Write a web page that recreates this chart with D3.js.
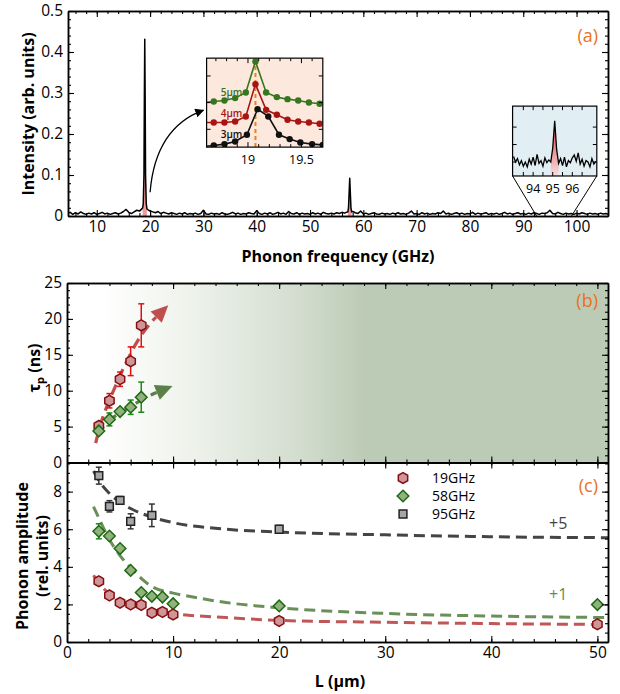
<!DOCTYPE html>
<html><head><meta charset="utf-8">
<script src="https://cdn.jsdelivr.net/npm/d3@7"></script>
<style>body{margin:0;background:#fff}svg{display:block}text{font-family:"Open Sans",sans-serif}</style>
</head><body><svg id="c" width="620" height="694"></svg>
<script>
// ---------- DATA ----------
// Panel (a): spectrum baseline noise, sampled every 0.5 GHz from 4.5 GHz
const noiseStartGHz = 4.5, noiseStepGHz = 0.5;
const noiseVals = [
0.006,0.009,0.004,0.008,0.005,0.010,0.006,0.004,0.007,0.005,
0.008,0.004,0.006,0.009,0.005,0.007,0.004,0.006,0.008,0.005,
0.007,0.011,0.016,0.009,0.006,0.010,0.014,0.012,0.018,0.020,
0.016,0.012,0.010,0.008,0.011,0.006,0.009,0.007,0.005,0.008,
0.006,0.004,0.007,0.005,0.008,0.004,0.006,0.005,0.007,0.004,
0.006,0.014,0.005,0.004,0.007,0.005,0.006,0.004,0.008,0.005,
0.004,0.006,0.009,0.005,0.007,0.004,0.006,0.005,0.008,0.006,
0.005,0.013,0.006,0.004,0.007,0.005,0.008,0.004,0.006,0.009,
0.005,0.007,0.004,0.011,0.006,0.005,0.008,0.004,0.007,0.005,
0.006,0.004,0.008,0.005,0.007,0.004,0.009,0.006,0.005,0.007,
0.005,0.008,0.006,0.009,0.007,0.010,0.012,0.011,0.008,0.006,
0.012,0.005,0.007,0.004,0.006,0.008,0.005,0.004,0.007,0.005,
0.006,0.004,0.007,0.005,0.008,0.005,0.006,0.004,0.007,0.012,
0.005,0.006,0.004,0.008,0.005,0.007,0.004,0.006,0.005,0.008,
0.006,0.012,0.005,0.007,0.004,0.006,0.008,0.005,0.007,0.004,
0.006,0.005,0.009,0.004,0.007,0.005,0.006,0.008,0.004,0.006,
0.005,0.007,0.004,0.006,0.009,0.005,0.007,0.004,0.006,0.008,
0.005,0.006,0.004,0.007,0.005,0.008,0.006,0.004,0.007,0.006,
0.008,0.014,0.006,0.005,0.009,0.006,0.004,0.007,0.005,0.006,
0.004,0.007,0.005,0.008,0.006,0.004,0.007,0.005,0.006,0.004,
0.007,0.005,0.006,0.004];
const peak19 = [[18.6,0.02],[18.72,0.03],[18.85,0.1],[18.93,0.3],[19.0,0.431],[19.07,0.3],[19.15,0.1],[19.28,0.03],[19.4,0.018]];
const peak57 = [[57.1,0.01],[57.22,0.02],[57.35,0.06],[57.45,0.092],[57.55,0.06],[57.68,0.02],[57.8,0.01]];
const freqTicks = [10,20,30,40,50,60,70,80,90,100];
const intensityTicks = [0,0.1,0.2,0.3,0.4,0.5];

// Inset 1 (19 GHz zoom)
const inset1Freq = [18.58,18.68,18.78,18.88,18.98,19.07,19.17,19.27,19.37,19.47,19.57,19.67];
const inset1Green5 = [50.2,51.3,52.4,55.1,61.4,96.3,61.4,56.2,53.9,52.4,50.2,48.7];
const inset1Red4 = [27.7,27.7,27.7,28.8,34.5,70.8,41.9,36.3,30.7,28.8,27.7,26.2];
const inset1BlackFreq = [18.58,18.68,18.78,18.88,18.99,19.09,19.19,19.29,19.39,19.49,19.60,19.70];
const inset1Black3 = [0.7,1.9,3.4,6.4,13.9,42.7,34.5,13.9,9.0,5.2,3.4,2.5];
const inset1Ticks = [19, 19.5];
const inset1Marker = 19.07;

// Inset 2 (95 GHz zoom), 0.1 GHz steps from 93.0
const inset2Start = 93.0, inset2Step = 0.1;
const inset2Vals = [0.28,0.20,0.25,0.16,0.22,0.14,0.20,0.13,0.24,0.17,0.27,0.15,0.31,0.18,0.22,0.14,0.26,0.19,0.23,0.20,0.40,0.79,0.38,0.18,0.25,0.15,0.27,0.13,0.22,0.19,0.26,0.30,0.21,0.33,0.17,0.24,0.14,0.22,0.20,0.13,0.25,0.17,0.21];
const inset2Ticks = [94,95,96];

// Panel (b): decay time vs L
const Lb = [3,4,5,6,7];
const tau19 = [5.1,8.6,11.6,14.1,19.1];
const tau19Err = [0.4,1.0,1.0,2.0,3.0];
const tau58 = [4.4,6.0,7.1,7.7,9.1];
const tau58Err = [0.4,0.9,0.4,1.0,2.1];
const arrow19 = [[2.7,2.7],[3.4,6.4],[4.5,10.4],[5.6,14.0],[6.9,17.5],[8.1,19.8],[9.55,21.9]];
const arrow58 = [[2.8,3.8],[4,5.9],[5,6.9],[6,7.8],[7,8.7],[8.2,9.6],[9.95,10.65]];
const tauTicks = [0,5,10,15,20,25];

// Panel (c): phonon amplitude vs L
const Lc = [3,4,5,6,7,8,9,10,20,50];
const amp19 = [3.23,2.48,2.09,2.0,1.97,1.56,1.6,1.46,1.12,0.94];
const amp19Err = [0.2,0.15,0.1,0.1,0.1,0.1,0.1,0.1,0.1,0.15];
const amp58 = [5.89,5.64,4.97,3.81,2.63,2.43,2.39,2.04,1.92,1.99];
const amp58Err = [0.4,0.1,0.1,0.1,0.1,0.1,0.1,0.1,0.1,0.1];
const L95 = [3,4,5,6,8,20];
const amp95 = [8.85,7.22,7.54,6.42,6.74,6.0];
const amp95Err = [0.45,0.3,0.2,0.4,0.6,0.2];
const fit19 = [[2.5,3.55],[3,3.15],[4,2.55],[5,2.2],[6,1.98],[8,1.72],[10,1.52],[15,1.3],[20,1.15],[30,1.05],[40,0.98],[51,0.93]];
const fit58 = [[2.5,7.2],[3,6.6],[4,5.45],[5,4.6],[6,3.95],[8,2.95],[10,2.6],[12,2.38],[15,2.1],[20,1.82],[30,1.52],[40,1.38],[51,1.3]];
const fit95 = [[2.5,9.1],[3,8.6],[4,7.9],[5,7.45],[6,7.1],[8,6.65],[10,6.35],[15,6.0],[20,5.85],[30,5.7],[40,5.6],[51,5.55]];
const ampTicks = [0,2,4,6,8];
const lTicks = [0,10,20,30,40,50];
const legendLabels = ["19GHz","58GHz","95GHz"];

// ---------- DRAWING ----------
const svg = d3.select("#c");
const defs = svg.append("defs");
const FONT = '"Open Sans",sans-serif';
const ORANGE = "#e8731f";

function frame(g, x, y, o) {
  const [x0,x1] = x.range(), [y0,y1] = y.range();
  const fmtX = o.xLab ? (o.xFmt || (d=>d)) : (()=> "");
  const fmtY = o.yLab ? (o.yFmt || (d=>d)) : (()=> "");
  const style = sel => { sel.attr("font-family", FONT).attr("font-size", o.fs || 15.5);
    sel.selectAll("line").attr("stroke","#000").attr("stroke-width",1.1);
    sel.select(".domain").attr("stroke","#000").attr("stroke-width",1.5);
    sel.selectAll("text").attr("fill","#000"); };
  const sides = [
    ["axisBottom", `translate(0,${y0})`, x, o.xMaj, o.xMin, fmtX],
    ["axisTop", `translate(0,${y1})`, x, o.xMaj, o.xMin, ()=>""],
    ["axisLeft", `translate(${x0},0)`, y, o.yMaj, o.yMin, fmtY],
    ["axisRight", `translate(${x1},0)`, y, o.yMaj, o.yMin, ()=>""]];
  sides.forEach(([fn, tr, sc, maj, mn, fmt]) => {
    g.append("g").attr("transform", tr)
      .call(d3[fn](sc).tickValues(mn).tickSize(-3).tickSizeOuter(0).tickFormat(""))
      .call(style);
    g.append("g").attr("transform", tr)
      .call(d3[fn](sc).tickValues(maj).tickSize(-6).tickSizeOuter(0).tickPadding(5).tickFormat(fmt))
      .call(style);
  });
}
const range = (a,b,s) => d3.range(a, b + s/2, s);

// ===== Panel (a) =====
const xa = d3.scaleLinear().domain([4.6, 105.9]).range([68, 608]);
const ya = d3.scaleLinear().domain([0, 0.5]).range([216, 11]);
const ga = svg.append("g");
defs.append("clipPath").attr("id","clipA").append("rect").attr("x",68).attr("y",11).attr("width",540).attr("height",205);

const noisePts = noiseVals.map((v,i)=>[noiseStartGHz + i*noiseStepGHz, v])
  .filter(p => !(p[0]>18.55 && p[0]<19.45) && !(p[0]>57.05 && p[0]<57.95));
const spec = noisePts.concat(peak19, peak57).sort((a,b)=>a[0]-b[0]);
const area = d3.area().x(d=>xa(d[0])).y0(ya(0)).y1(d=>ya(d[1]));
const lineA = d3.line().x(d=>xa(d[0])).y(d=>ya(d[1]));
const gClip = ga.append("g").attr("clip-path","url(#clipA)");
[peak19, peak57].forEach(p => gClip.append("path").attr("d", area(p)).attr("fill","#f29a9a"));
gClip.append("path").attr("d", lineA(spec)).attr("fill","none").attr("stroke","#000").attr("stroke-width",1.5).attr("stroke-linejoin","round");

frame(ga, xa, ya, {xMaj: freqTicks, xMin: range(6,104,2), yMaj: intensityTicks, yMin: range(0,0.5,0.02),
  xLab:true, yLab:true, yFmt: d => d===0 ? "0" : d3.format(".1f")(d)});
ga.append("text").attr("x", 338).attr("y", 262).attr("text-anchor","middle").attr("font-weight","bold").attr("font-size",16).text("Phonon frequency (GHz)");
ga.append("text").attr("transform","translate(34,114) rotate(-90)").attr("text-anchor","middle").attr("font-weight","bold").attr("font-size",16).text("Intensity (arb. units)");
ga.append("text").attr("x",598).attr("y",42).attr("text-anchor","end").attr("fill",ORANGE).attr("font-size",18).text("(a)");

// arrow to inset 1
defs.append("marker").attr("id","ahA").attr("viewBox","0 0 10 10").attr("refX",9).attr("refY",5)
  .attr("markerWidth",9).attr("markerHeight",9).attr("orient","auto").attr("markerUnits","userSpaceOnUse")
  .append("path").attr("d","M0,0 L10,5 L0,10 Z").attr("fill","#000");
const arrowStart = [20.0, 0.058], arrowCtrl = [21.0, 0.215], arrowEnd = [30.0, 0.258];
ga.append("path").attr("d", `M${xa(arrowStart[0])},${ya(arrowStart[1])} Q${xa(arrowCtrl[0])},${ya(arrowCtrl[1])} ${xa(arrowEnd[0])},${ya(arrowEnd[1])}`)
  .attr("fill","none").attr("stroke","#000").attr("stroke-width",1.3).attr("marker-end","url(#ahA)");

// ----- Inset 1 -----
const i1 = {x0: xa(30.6), x1: xa(52.4), y0: ya(0.168), y1: ya(0.385)};
const xi1 = d3.scaleLinear().domain([18.613, 19.70]).range([i1.x0, i1.x1]);
const yi1 = d3.scaleLinear().domain([0, 100]).range([i1.y0, i1.y1]);
const gi1 = svg.append("g");
defs.append("clipPath").attr("id","clipI1").append("rect").attr("x",i1.x0).attr("y",i1.y1).attr("width",i1.x1-i1.x0).attr("height",i1.y0-i1.y1);
gi1.append("rect").attr("x",i1.x0).attr("y",i1.y1).attr("width",i1.x1-i1.x0).attr("height",i1.y0-i1.y1).attr("fill","#fde8dd");
const gi1c = gi1.append("g").attr("clip-path","url(#clipI1)");
gi1c.append("line").attr("x1",xi1(inset1Marker)).attr("x2",xi1(inset1Marker)).attr("y1",yi1(0)).attr("y2",yi1(97))
  .attr("stroke","#f08010").attr("stroke-width",2).attr("stroke-dasharray","4,3");
const i1Series = [
  {fx: inset1Freq, v: inset1Green5, c: "#35761f", lab: "5μm", ly: 57},
  {fx: inset1Freq, v: inset1Red4, c: "#a81414", lab: "4μm", ly: 34},
  {fx: inset1BlackFreq, v: inset1Black3, c: "#111", lab: "3μm", ly: 10}];
const li1 = d3.line().x(d=>xi1(d[0])).y(d=>yi1(d[1]));
i1Series.forEach(s => {
  const pts = s.fx.map((f,i)=>[f, s.v[i]]);
  gi1c.append("path").attr("d", li1(pts)).attr("fill","none").attr("stroke",s.c).attr("stroke-width",1.6);
  gi1c.selectAll(null).data(pts).join("circle").attr("cx",d=>xi1(d[0])).attr("cy",d=>yi1(d[1])).attr("r",3.2).attr("fill",s.c);
  gi1.append("text").attr("x", xi1(18.745)).attr("y", yi1(s.ly)).attr("fill", s.c).attr("font-size",10).attr("font-weight","600").text(s.lab);
});
gi1.append("rect").attr("x",i1.x0).attr("y",i1.y1).attr("width",i1.x1-i1.x0).attr("height",i1.y0-i1.y1).attr("fill","none").attr("stroke","#000").attr("stroke-width",1.2);
const i1xt = range(18.7, 19.6, 0.1);
i1xt.forEach(t => {
  const L = (Math.abs(t-19)<0.01 || Math.abs(t-19.5)<0.01) ? 5 : 3;
  gi1.append("line").attr("x1",xi1(t)).attr("x2",xi1(t)).attr("y1",i1.y0).attr("y2",i1.y0-L).attr("stroke","#000");
  gi1.append("line").attr("x1",xi1(t)).attr("x2",xi1(t)).attr("y1",i1.y1).attr("y2",i1.y1+L).attr("stroke","#000");
});
[20, 50, 80].forEach(t => {
  gi1.append("line").attr("x1",i1.x0).attr("x2",i1.x0+4).attr("y1",yi1(t)).attr("y2",yi1(t)).attr("stroke","#000");
  gi1.append("line").attr("x1",i1.x1).attr("x2",i1.x1-4).attr("y1",yi1(t)).attr("y2",yi1(t)).attr("stroke","#000");
});
inset1Ticks.forEach(t => gi1.append("text").attr("x",xi1(t)).attr("y",i1.y0+17).attr("text-anchor","middle").attr("font-size",12.5).text(t));

// ----- Inset 2 -----
const i2 = {x0: xa(88.0), x1: xa(103.8), y0: ya(0.0976), y1: ya(0.268)};
const xi2 = d3.scaleLinear().domain([92.95, 97.25]).range([i2.x0, i2.x1]);
const yi2 = d3.scaleLinear().domain([0, 1]).range([i2.y0, i2.y1]);
const gi2 = svg.append("g");
gi2.append("line").attr("x1",i2.x0).attr("y1",i2.y0).attr("x2",xa(92.5)).attr("y2",ya(0)).attr("stroke","#000").attr("stroke-width",1);
gi2.append("line").attr("x1",i2.x1).attr("y1",i2.y0).attr("x2",xa(99.05)).attr("y2",ya(0)).attr("stroke","#000").attr("stroke-width",1);
gi2.append("rect").attr("x",i2.x0).attr("y",i2.y1).attr("width",i2.x1-i2.x0).attr("height",i2.y0-i2.y1).attr("fill","#e1eef3");
const grad2 = defs.append("linearGradient").attr("id","g2").attr("x1",0).attr("x2",0).attr("y1",0).attr("y2",1);
grad2.append("stop").attr("offset","0%").attr("stop-color","#e03a3a");
grad2.append("stop").attr("offset","100%").attr("stop-color","#f8dede");
const pts2 = inset2Vals.map((v,i)=>[inset2Start + i*inset2Step, v]);
const peak2 = pts2.filter(p => p[0] > 94.85 && p[0] < 95.35);
gi2.append("path").attr("d", d3.area().x(d=>xi2(d[0])).y0(i2.y0).y1(d=>yi2(d[1]))(peak2)).attr("fill","url(#g2)");
gi2.append("path").attr("d", d3.line().x(d=>xi2(d[0])).y(d=>yi2(d[1]))(pts2)).attr("fill","none").attr("stroke","#000").attr("stroke-width",1.3);
gi2.append("rect").attr("x",i2.x0).attr("y",i2.y1).attr("width",i2.x1-i2.x0).attr("height",i2.y0-i2.y1).attr("fill","none").attr("stroke","#000").attr("stroke-width",1.2);
range(93.5, 96.5, 0.5).forEach(t => {
  gi2.append("line").attr("x1",xi2(t)).attr("x2",xi2(t)).attr("y1",i2.y1).attr("y2",i2.y1+4).attr("stroke","#000");
  gi2.append("line").attr("x1",xi2(t)).attr("x2",xi2(t)).attr("y1",i2.y0).attr("y2",i2.y0-4).attr("stroke","#000");
});
[0.2,0.45,0.7].forEach(t => {
  gi2.append("line").attr("x1",i2.x0).attr("x2",i2.x0+4).attr("y1",yi2(t)).attr("y2",yi2(t)).attr("stroke","#000");
  gi2.append("line").attr("x1",i2.x1).attr("x2",i2.x1-4).attr("y1",yi2(t)).attr("y2",yi2(t)).attr("stroke","#000");
});
inset2Ticks.forEach(t => gi2.append("text").attr("x",xi2(t)).attr("y",i2.y0+17).attr("text-anchor","middle").attr("font-size",12.5).text(t));

// ===== Panels (b) and (c) =====
const xL = d3.scaleLinear().domain([0, 51]).range([67, 608]);
const yb = d3.scaleLinear().domain([0, 25]).range([462.5, 283]);
const yc = d3.scaleLinear().domain([0, 9.55]).range([642, 462.5]);

function hexPath(r){ return d3.range(6).map(k=>{const a=(-90+60*k)*Math.PI/180; return [r*Math.cos(a), r*Math.sin(a)];}).map((p,i)=>(i?"L":"M")+p[0].toFixed(2)+","+p[1].toFixed(2)).join("")+"Z"; }
function diaPath(r){ return `M0,${-r}L${r},0L0,${r}L${-r},0Z`; }
function sqPath(r){ return `M${-r},${-r}H${r}V${r}H${-r}Z`; }
const styles = {
  h19: {path: hexPath(5.4), fill:"#cf9597", stroke:"#840f12", err:"#e01010"},
  d58: {path: diaPath(5.8), fill:"#93b07f", stroke:"#1c6a10", err:"#1b8a18"},
  s95: {path: sqPath(3.9), fill:"#a6a6a6", stroke:"#222", err:"#333"}};

function errorbars(g, xs, ys, es, x, y, col) {
  xs.forEach((L,i) => {
    const cx = x(L);
    g.append("line").attr("x1",cx).attr("x2",cx).attr("y1",y(ys[i]-es[i])).attr("y2",y(ys[i]+es[i])).attr("stroke",col).attr("stroke-width",1.5);
    [ys[i]-es[i], ys[i]+es[i]].forEach(v => g.append("line").attr("x1",cx-3).attr("x2",cx+3).attr("y1",y(v)).attr("y2",y(v)).attr("stroke",col).attr("stroke-width",1.5));
  });
}
function markers(g, xs, ys, x, y, st) {
  g.selectAll(null).data(xs.map((L,i)=>[L,ys[i]])).join("path")
    .attr("d", st.path).attr("transform", d=>`translate(${x(d[0])},${y(d[1])})`)
    .attr("fill", st.fill).attr("stroke", st.stroke).attr("stroke-width",1.5);
}

// (b) background gradient
const gb = svg.append("g");
const gradB = defs.append("linearGradient").attr("id","gb").attr("gradientUnits","userSpaceOnUse").attr("x1",100).attr("x2",365).attr("y1",0).attr("y2",0);
[[0,"#ffffff"],[0.35,"#eef2eb"],[0.75,"#d3ddcf"],[1,"#bccbb5"]].forEach(s=>gradB.append("stop").attr("offset",s[0]).attr("stop-color",s[1]));
gb.append("rect").attr("x",67).attr("y",283).attr("width",541).attr("height",179.5).attr("fill","url(#gb)");

function dashedArrow(g, pts, col) {
  const p = pts.map(d=>[xL(d[0]), yb(d[1])]);
  const tip = p[p.length-1], prev = p[p.length-2];
  const dx = tip[0]-prev[0], dy = tip[1]-prev[1], len = Math.hypot(dx,dy), ux = dx/len, uy = dy/len;
  const hl = 17, hw = 8;
  const base = [tip[0]-ux*hl, tip[1]-uy*hl];
  const body = p.slice(0,-1).concat([base]);
  g.append("path").attr("d", d3.line().curve(d3.curveCatmullRom)(body)).attr("fill","none").attr("stroke",col).attr("stroke-width",3.2).attr("stroke-dasharray","11,6");
  g.append("path").attr("d", `M${tip[0]},${tip[1]}L${base[0]-uy*hw},${base[1]+ux*hw}L${base[0]+uy*hw},${base[1]-ux*hw}Z`).attr("fill",col);
}
dashedArrow(gb, arrow19, "#bf4e4e");
dashedArrow(gb, arrow58, "#5c8049");
errorbars(gb, Lb, tau19, tau19Err, xL, yb, styles.h19.err);
errorbars(gb, Lb, tau58, tau58Err, xL, yb, styles.d58.err);
markers(gb, Lb, tau19, xL, yb, styles.h19);
markers(gb, Lb, tau58, xL, yb, styles.d58);
frame(gb, xL, yb, {xMaj: lTicks, xMin: range(2,50,2), yMaj: tauTicks, yMin: range(0,25,1), xLab:false, yLab:true});
gb.append("text").attr("x",598).attr("y",307).attr("text-anchor","end").attr("fill",ORANGE).attr("font-size",18).text("(b)");
const tl = gb.append("text").attr("transform","translate(40,368) rotate(-90)").attr("text-anchor","middle").attr("font-weight","bold").attr("font-size",16);
tl.append("tspan").text("τ");
tl.append("tspan").attr("font-size",11).attr("dy",4).text("p");
tl.append("tspan").attr("dy",-4).text(" (ns)");

// (c)
const gc = svg.append("g");
const fitLine = d3.line().curve(d3.curveMonotoneX).x(d=>xL(d[0])).y(d=>yc(d[1]));
[[fit95,"#444444"],[fit58,"#6a9058"],[fit19,"#c05656"]].forEach(([f,c]) =>
  gc.append("path").attr("d", fitLine(f)).attr("fill","none").attr("stroke",c).attr("stroke-width",3).attr("stroke-dasharray","11,6"));
errorbars(gc, Lc, amp19, amp19Err, xL, yc, styles.h19.err);
errorbars(gc, Lc, amp58, amp58Err, xL, yc, styles.d58.err);
errorbars(gc, L95, amp95, amp95Err, xL, yc, styles.s95.err);
markers(gc, L95, amp95, xL, yc, styles.s95);
markers(gc, Lc, amp58, xL, yc, styles.d58);
markers(gc, Lc, amp19, xL, yc, styles.h19);
frame(gc, xL, yc, {xMaj: lTicks, xMin: range(2,50,2), yMaj: ampTicks, yMin: range(0,9.5,0.5), xLab:true, yLab:true});
gc.append("text").attr("x",598).attr("y",492).attr("text-anchor","end").attr("fill",ORANGE).attr("font-size",18).text("(c)");
gc.append("text").attr("x",340).attr("y",687).attr("text-anchor","middle").attr("font-weight","bold").attr("font-size",16).text("L (μm)");
const yt = gc.append("text").attr("transform","translate(0,556) rotate(-90)").attr("text-anchor","middle").attr("font-weight","bold").attr("font-size",16);
yt.append("tspan").attr("x",0).attr("y",28).text("Phonon amplitude");
yt.append("tspan").attr("x",0).attr("y",48).text("(rel. units)");
gc.append("text").attr("x",549).attr("y",529).attr("fill","#444").attr("font-size",16).text("+5");
gc.append("text").attr("x",549).attr("y",600).attr("fill","#5f8f4c").attr("font-size",16).text("+1");
const leg = gc.append("g");
[styles.h19, styles.d58, styles.s95].forEach((st,i) => {
  const yy = 478 + i*18;
  leg.append("path").attr("d", st.path).attr("transform",`translate(403,${yy})`).attr("fill",st.fill).attr("stroke",st.stroke).attr("stroke-width",1.5);
  leg.append("text").attr("x",432).attr("y",yy+5).attr("font-size",14).text(legendLabels[i]);
});
</script></body></html>
